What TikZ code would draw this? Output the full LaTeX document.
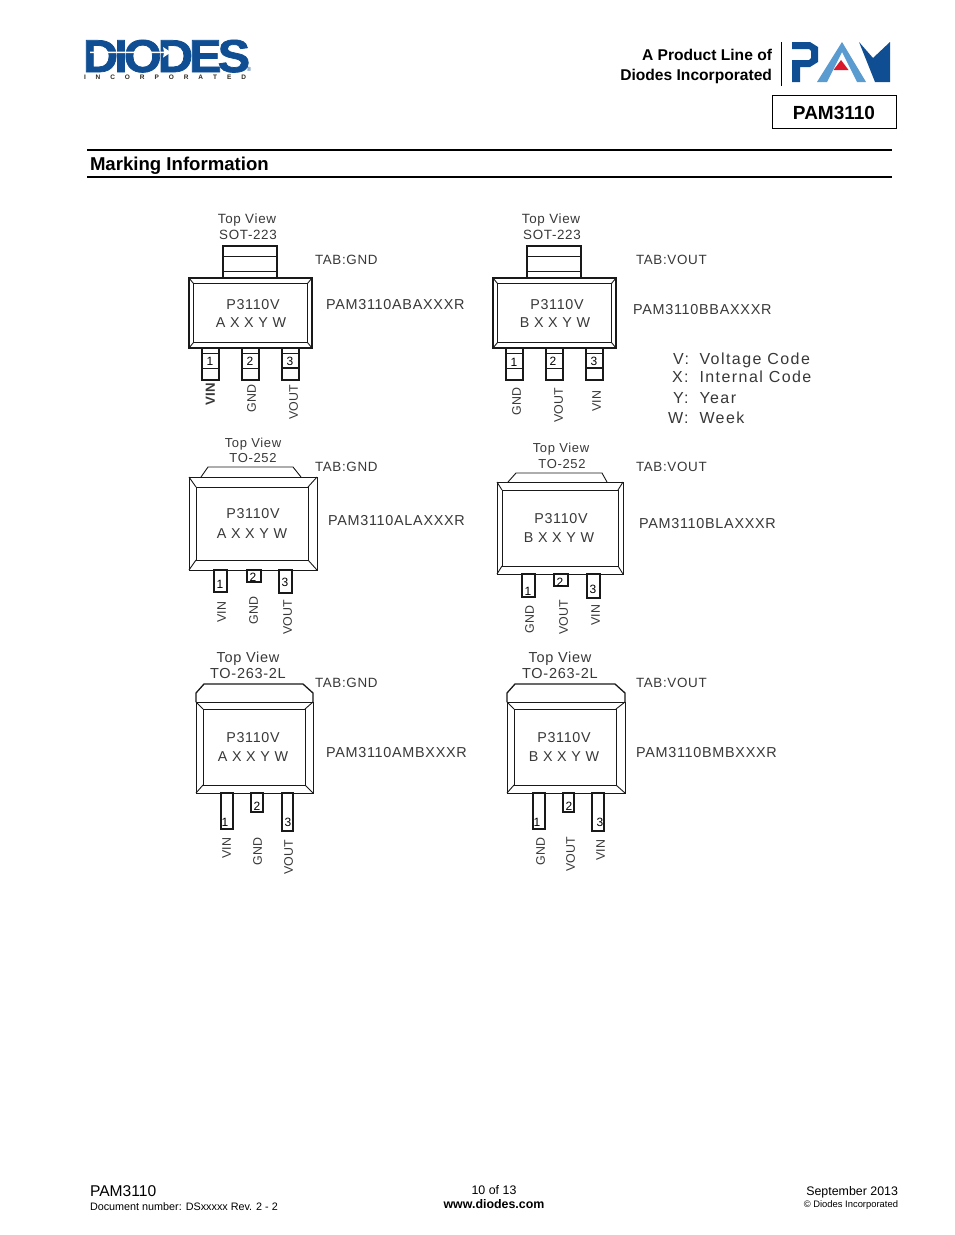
\documentclass[tikz,border=0pt]{standalone}
\usepackage{fontspec}
\setmainfont{Liberation Sans}
\newfontfamily\spcf[LetterSpace=5]{Liberation Sans}
\newfontfamily\legf[LetterSpace=9]{Liberation Sans}
\newfontfamily\logof[LetterSpace=-8.6,FakeStretch=1.06,BoldFeatures={FakeBold=1.6}]{Liberation Sans}
\definecolor{ink}{gray}{0.22}
\definecolor{pkgline}{gray}{0.1}
\definecolor{dblue}{HTML}{0F4E92}
\definecolor{lblue}{HTML}{5A9BD0}
\definecolor{pred}{HTML}{D9192B}
\definecolor{logoink}{HTML}{2E2A20}
\newcount\nc
\newcommand\T[4]{\global\advance\nc by 1 \node[#1] (t\the\nc) at (#2,#3) {#4};}
\newcommand\fs[1]{\fontsize{#1}{#1}\selectfont}
\tikzset{
  txt/.style={inner sep=0pt,outer sep=0pt,anchor=mid,yshift=-2.9pt},
  hv/.style={txt,font=\fs{13.6}\spcf,text=ink},
  tv/.style={hv,font=\fs{13.4}\spcf},
  code/.style={hv,font=\fs{14.3}\spcf},
  partno/.style={hv,anchor=mid west,font=\fs{14.4}\spcf},
  tabl/.style={hv,anchor=mid west,font=\fs{13.4}\spcf},
  pinl/.style={inner sep=0pt,outer sep=0pt,xshift=2.3pt,rotate=90,anchor=mid east,font=\fs{12.4},text=ink},
  dig/.style={txt,font=\fs{12},text=black},
  leg/.style={hv,anchor=mid west,font=\fs{16}\legf},
  thickbody/.style={draw=pkgline,line width=1.3pt},
  thinbody/.style={draw=pkgline,line width=0.9pt},
  pinbox/.style={draw=pkgline,line width=1.1pt,fill=white},
  hb/.style={txt,font=\bfseries\fs{15.6},text=black},
  rule/.style={draw=black,line width=1.4pt},
}
% outer x1 y1 x2 y2 inner x1 y1 x2 y2
\newcommand\bodyp[9][thinbody]{%
  \draw[#1] (#2,#3) rectangle (#4,#5);
  \draw[thinbody] (#6,#7) rectangle (#8,#9);
  \draw[thinbody] (#2,#3) -- (#6,#7) (#4,#3) -- (#8,#7) (#2,#5) -- (#6,#9) (#4,#5) -- (#8,#9);
}
\newcommand\pinp[4]{\draw[pinbox] (#1,#3) rectangle (#2,#4);}
\newcommand\sotpkg[2]{%
  \begin{scope}[xshift=#1pt]
  \draw[thinbody,line width=1.2pt] (223,246) rectangle (277,278);
  \draw[thinbody] (223,256) -- (277,256) (223,271) -- (277,271);
  \bodyp[thickbody]{189}{278}{312}{348}{193.5}{283.5}{307.5}{342.5}
  \foreach \px/\wid in {202/1,242/1,282/1.6}{
    \draw[pinbox] (\px,348) rectangle (\px+17,380);
    \draw[draw=pkgline,line width=0.5pt] (\px,353) -- (\px+17,353);
    \draw[draw=pkgline,line width=\wid pt] (\px,368) -- (\px+17,368);
  }
  \end{scope}
}
\begin{document}
\begin{tikzpicture}[x=1pt,y=-1pt]
\useasboundingbox (0,0) rectangle (954,1235);
\fill[white] (0,0) rectangle (954,1235);

% DIODES logo
\T{txt,yshift=2.9pt,anchor=base west,font=\logof\bfseries\fs{46},text=dblue}{83}{72}{DIODES}
\fill[white] (90,51.6) -- (164,51.6) -- (163,47) -- (171,52.3) -- (163,57.6) -- (164,53) -- (90,53) -- cycle;
\T{txt,yshift=2.9pt,anchor=mid west,font=\bfseries\fs{6.5},text=logoink}{84}{76.5}{\hbox to 162pt{I\hfill N\hfill C\hfill O\hfill R\hfill P\hfill O\hfill R\hfill A\hfill T\hfill E\hfill D}}
\T{txt,yshift=2.9pt,font=\fs{6},text=dblue}{249}{69}{®}

% header
\T{hb,anchor=mid east,yshift=-0.4pt}{772}{55}{A Product Line of}
\T{hb,anchor=mid east,yshift=-0.4pt}{772}{75}{Diodes Incorporated}
\draw[black,line width=0.8pt] (781,42) -- (781,86);
% PAM logo
\fill[dblue] (792,42) -- (810,42) -- (818,47) -- (818,62) -- (810,67) -- (800,67) -- (800,82) -- (792,82) -- (792,60) -- (809,60) -- (811,58) -- (811,51) -- (809,49) -- (792,49) -- cycle;
\fill[lblue] (842,42) -- (866,82) -- (857,82) -- (842,52) -- (827,82) -- (817,82) -- cycle;
\fill[pred] (841,60) -- (848.5,70) -- (833.5,70) -- cycle;
\fill[dblue] (859,42) -- (873,58) -- (890,42) -- (890,82) -- (875,82) -- cycle;
\draw[black,line width=1.3pt,fill=white] (772.5,95.5) rectangle (896.5,128.5);
\T{txt,yshift=-0.6pt,font=\bfseries\fs{19},text=black}{834}{113}{PAM3110}

% section header
\draw[rule] (87,150) -- (892,150);
\draw[rule] (87,177) -- (892,177);
\T{txt,yshift=-0.8pt,anchor=mid west,font=\bfseries\fs{18.6},text=black}{90}{164}{Marking Information}

% SOT-223 A
\sotpkg{0}{}
\T{tv}{247}{218}{Top View}
\T{tv}{248}{234}{SOT-223}
\T{tabl}{315}{259}{TAB:GND}
\T{partno}{326}{304}{PAM3110ABAXXXR}
\T{code}{253}{304}{P3110V}
\T{code}{251}{322}{A X X Y W}
\T{dig}{210}{360}{1}\T{dig}{250}{360}{2}\T{dig}{290}{360}{3}
\T{pinl,font=\bfseries\fs{13.2}}{210}{383}{VIN}
\T{pinl}{251}{385}{GND}
\T{pinl}{293}{385}{VOUT}

% SOT-223 B
\sotpkg{304}{}
\T{tv}{551}{218}{Top View}
\T{tv}{552}{234}{SOT-223}
\T{tabl}{636}{259}{TAB:VOUT}
\T{partno}{633}{309}{PAM3110BBAXXXR}
\T{code}{557}{304}{P3110V}
\T{code}{555}{322}{B X X Y W}
\T{dig}{514}{361}{1}\T{dig}{553}{360}{2}\T{dig}{594}{360}{3}
\T{pinl}{516}{388}{GND}
\T{pinl}{558}{388}{VOUT}
\T{pinl}{596}{391}{VIN}

% legend
\T{leg}{673}{359}{V:}\T{leg}{699.5}{359}{Voltage Code}
\T{leg}{672}{377}{X:}\T{leg}{699.5}{377}{Internal Code}
\T{leg}{673}{398}{Y:}\T{leg}{699.5}{398}{Year}
\T{leg}{668}{418}{W:}\T{leg}{699.5}{418}{Week}

% TO-252 A
\draw[thinbody] (201,477) -- (208,467) -- (293,467) -- (301,477);
\bodyp{189}{477}{317}{570}{196}{487}{308}{560}
\pinp{214}{227}{570}{592}
\pinp{247}{261}{570}{582}
\pinp{279}{292}{570}{593}
\T{tv,font=\fs{13}\spcf}{253}{442}{Top View}
\T{tv,font=\fs{13}\spcf}{253}{457}{TO-252}
\T{tabl}{315}{466}{TAB:GND}
\T{partno}{328}{520}{PAM3110ALAXXXR}
\T{code}{253}{513}{P3110V}
\T{code}{252}{533}{A X X Y W}
\T{dig}{220}{583}{1}\T{dig}{253}{576}{2}\T{dig}{285}{581}{3}
\T{pinl}{221}{602}{VIN}
\T{pinl}{253}{597}{GND}
\T{pinl}{287}{600}{VOUT}

% TO-252 B
\draw[thinbody] (508,482) -- (516,473) -- (602,473) -- (607,482);
\bodyp{497}{482}{623}{574}{502}{490}{618}{566}
\pinp{522}{535}{574}{597}
\pinp{554}{568}{574}{586}
\pinp{587}{600}{574}{598}
\T{tv,font=\fs{13}\spcf}{561}{447}{Top View}
\T{tv,font=\fs{13}\spcf}{562}{463}{TO-252}
\T{tabl}{636}{466}{TAB:VOUT}
\T{partno}{639}{523}{PAM3110BLAXXXR}
\T{code}{561}{518}{P3110V}
\T{code}{559}{537}{B X X Y W}
\T{dig}{528}{590}{1}\T{dig}{560}{581}{2}\T{dig}{593}{588}{3}
\T{pinl}{529}{606}{GND}
\T{pinl}{563}{600}{VOUT}
\T{pinl}{595}{605}{VIN}

% TO-263 A
\draw[thickbody] (196,702) -- (196,693) -- (204,684) -- (303,684) -- (313,693) -- (313,702);
\bodyp{196}{702}{313}{793}{203}{709}{305}{785}
\pinp{221}{233}{793}{829}
\pinp{251}{263}{793}{812}
\pinp{282}{293}{793}{831}
\T{tv,font=\fs{14.5}\spcf}{248}{657}{Top View}
\T{tv,font=\fs{14.5}\spcf}{248}{673}{TO-263-2L}
\T{tabl}{315}{682}{TAB:GND}
\T{partno}{326}{752}{PAM3110AMBXXXR}
\T{code}{253}{737}{P3110V}
\T{code}{253}{756}{A X X Y W}
\T{dig}{225}{821}{1}\T{dig}{257}{805}{2}\T{dig}{288}{821}{3}
\T{pinl}{226}{838}{VIN}
\T{pinl}{257}{838}{GND}
\T{pinl}{288}{840}{VOUT}

% TO-263 B
\draw[thickbody] (507,702) -- (507,693) -- (515,684) -- (615,684) -- (625,693) -- (625,702);
\bodyp{507}{702}{625}{793}{514}{709}{616}{785}
\pinp{533}{545}{793}{829}
\pinp{563}{574}{793}{812}
\pinp{592}{604}{793}{831}
\T{tv,font=\fs{14.5}\spcf}{560}{657}{Top View}
\T{tv,font=\fs{14.5}\spcf}{560}{673}{TO-263-2L}
\T{tabl}{636}{682}{TAB:VOUT}
\T{partno}{636}{752}{PAM3110BMBXXXR}
\T{code}{564}{737}{P3110V}
\T{code}{564}{756}{B X X Y W}
\T{dig}{537}{821}{1}\T{dig}{569}{805}{2}\T{dig}{600}{821}{3}
\T{pinl}{540}{838}{GND}
\T{pinl}{570}{837}{VOUT}
\T{pinl}{600}{840}{VIN}

% footer
\T{txt,anchor=mid west,font=\fs{15.6},text=black}{90}{1191}{PAM3110}
\T{txt,yshift=1.4pt,anchor=mid west,font=\fs{10.8},text=black}{90}{1206}{Document number: DSxxxxx Rev. 2 - 2}
\T{txt,yshift=0.6pt,font=\fs{12.4},text=black}{494}{1190}{10 of 13}
\T{txt,yshift=0.6pt,font=\bfseries\fs{12.4},text=black}{494}{1204}{www.diodes.com}
\T{txt,yshift=0.6pt,anchor=mid east,font=\fs{12.4},text=black}{898}{1191}{September 2013}
\T{txt,yshift=1.6pt,anchor=mid east,font=\fs{9.4},text=black}{898}{1204}{© Diodes Incorporated}
\end{tikzpicture}
\end{document}
